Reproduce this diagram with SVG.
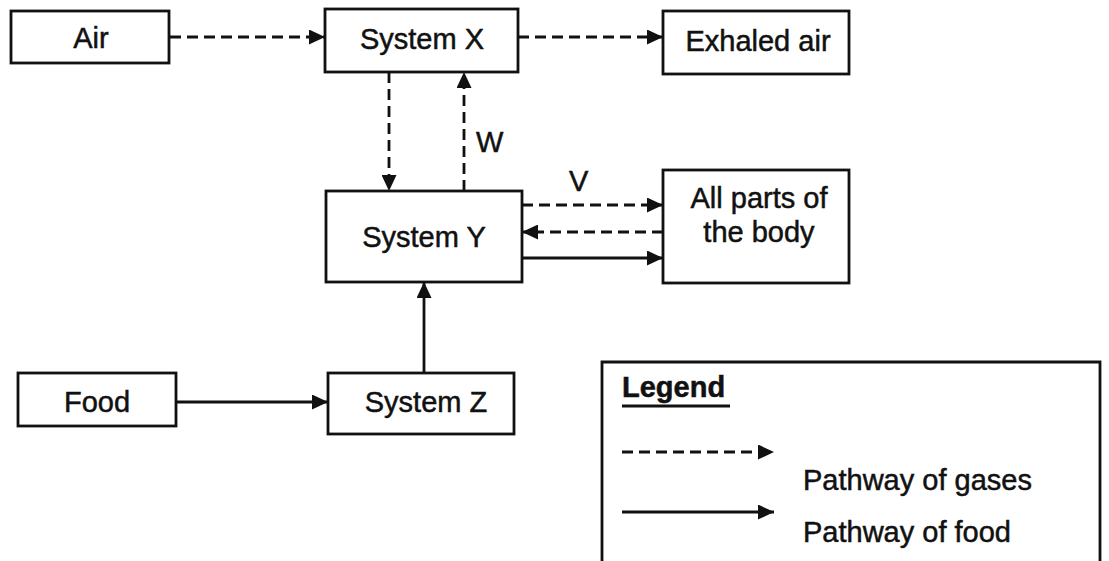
<svg xmlns="http://www.w3.org/2000/svg" width="1109" height="561" viewBox="0 0 1109 561">
<defs>
<style>
.box{fill:#fff;stroke:#111;stroke-width:2.8}
.t{font-family:"Liberation Sans",Arial,sans-serif;font-size:29px;fill:#111;stroke:#111;stroke-width:0.5;text-anchor:middle}
.lbl{font-family:"Liberation Sans",Arial,sans-serif;font-size:29px;fill:#111;stroke:#111;stroke-width:0.5}
.gas{fill:none;stroke:#111;stroke-width:2.8;stroke-dasharray:11 6;marker-end:url(#ah)}
.food{fill:none;stroke:#111;stroke-width:2.8;marker-end:url(#ah)}
</style>
<marker id="ah" markerUnits="userSpaceOnUse" markerWidth="17" markerHeight="15" refX="16" refY="7.5" orient="auto">
<path d="M0,0 L16,7.5 L0,15 z" fill="#111"/>
</marker>
</defs>
<rect width="1109" height="561" fill="#fff"/>
<g id="connectors">
<line class="gas" x1="170" y1="37" x2="325" y2="37"/>
<line class="gas" x1="518" y1="37" x2="663" y2="37"/>
<line class="gas" x1="389" y1="72" x2="389" y2="191"/>
<line class="gas" x1="464" y1="191" x2="464" y2="72"/>
<line class="gas" x1="522" y1="205" x2="663" y2="205"/>
<line class="gas" x1="663" y1="232" x2="522" y2="232"/>
<line class="food" x1="522" y1="258" x2="663" y2="258"/>
<line class="food" x1="424" y1="373" x2="424" y2="282"/>
<line class="food" x1="176" y1="402" x2="328" y2="402"/>
<text class="lbl" x="476" y="152">W</text>
<text class="lbl" x="569" y="191">V</text>
</g>
<g id="air"><rect class="box" x="11" y="11" width="158" height="52"/><text class="t" x="91" y="48">Air</text></g>
<g id="systemX"><rect class="box" x="325" y="9" width="193" height="63"/><text class="t" x="422" y="49">System X</text></g>
<g id="exhaled"><rect class="box" x="663" y="11" width="186" height="63"/><text class="t" x="758" y="51">Exhaled air</text></g>
<g id="systemY"><rect class="box" x="326" y="191" width="196" height="91"/><text class="t" x="424" y="247">System Y</text></g>
<g id="allparts"><rect class="box" x="663" y="170" width="186" height="113"/><text class="t" x="759" y="208">All parts of</text><text class="t" x="759" y="242">the body</text></g>
<g id="food"><rect class="box" x="18" y="373" width="158" height="53"/><text class="t" x="97" y="412">Food</text></g>
<g id="systemZ"><rect class="box" x="328" y="373" width="186" height="61"/><text class="t" x="426" y="412">System Z</text></g>
<g id="legend">
<path d="M602,561 V362 H1100 V561" fill="none" stroke="#111" stroke-width="2.8"/>
<text class="lbl" x="622" y="397" font-weight="bold">Legend</text>
<line x1="622" y1="406" x2="730" y2="406" stroke="#111" stroke-width="2.8"/>
<line class="gas" x1="622" y1="452" x2="774" y2="452"/>
<text class="lbl" x="803" y="490">Pathway of gases</text>
<line class="food" x1="622" y1="512" x2="774" y2="512"/>
<text class="lbl" x="803" y="542">Pathway of food</text>
</g>
</svg>
